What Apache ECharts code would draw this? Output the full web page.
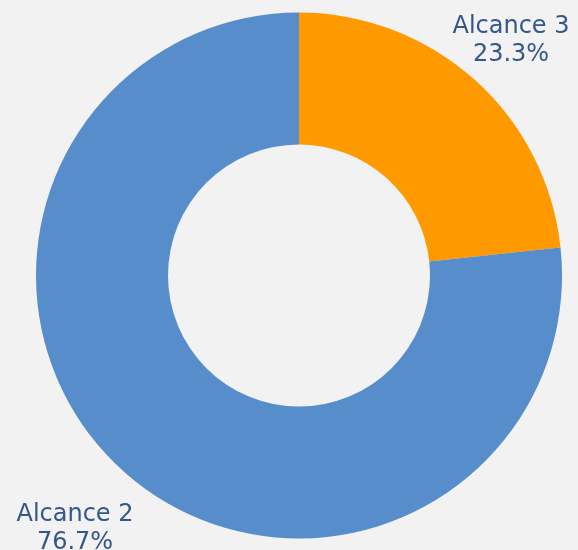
<!DOCTYPE html>
<html><head><meta charset="utf-8">
<script src="https://cdn.jsdelivr.net/npm/echarts@6/dist/echarts.min.js"></script>
<style>html,body{margin:0;padding:0;background:#f2f2f2}#c{width:578px;height:550px}</style>
</head><body><div id="c"></div>
<script>
var categories = ['Alcance 3', 'Alcance 2'];
var values = [23.3, 76.7];
var colors = ['#ff9900', '#568dca'];
var labelPos = [[511, 41], [75, 529]];

var chart = echarts.init(document.getElementById('c'));
chart.setOption({
  backgroundColor: '#f2f2f2',
  animation: false,
  series: [{
    type: 'pie',
    center: [299, 275.5],
    radius: [131, 263],
    startAngle: 90,
    clockwise: true,
    data: categories.map(function (n, i) { return { name: n, value: values[i], itemStyle: { color: colors[i] } }; }),
    label: {
      show: true,
      position: 'outside',
      formatter: function (p) { return p.name + '\n' + p.value.toFixed(1) + '%'; },
      color: '#34568b',
      fontFamily: 'DejaVu Sans',
      fontSize: 24,
      lineHeight: 28,
      align: 'center',
      overflow: 'none',
      width: 200
    },
    labelLine: { show: false },
    labelLayout: function (params) {
      var p = labelPos[params.dataIndex];
      return { x: p[0], y: p[1], align: 'center', verticalAlign: 'middle' };
    }
  }]
});
</script></body></html>
